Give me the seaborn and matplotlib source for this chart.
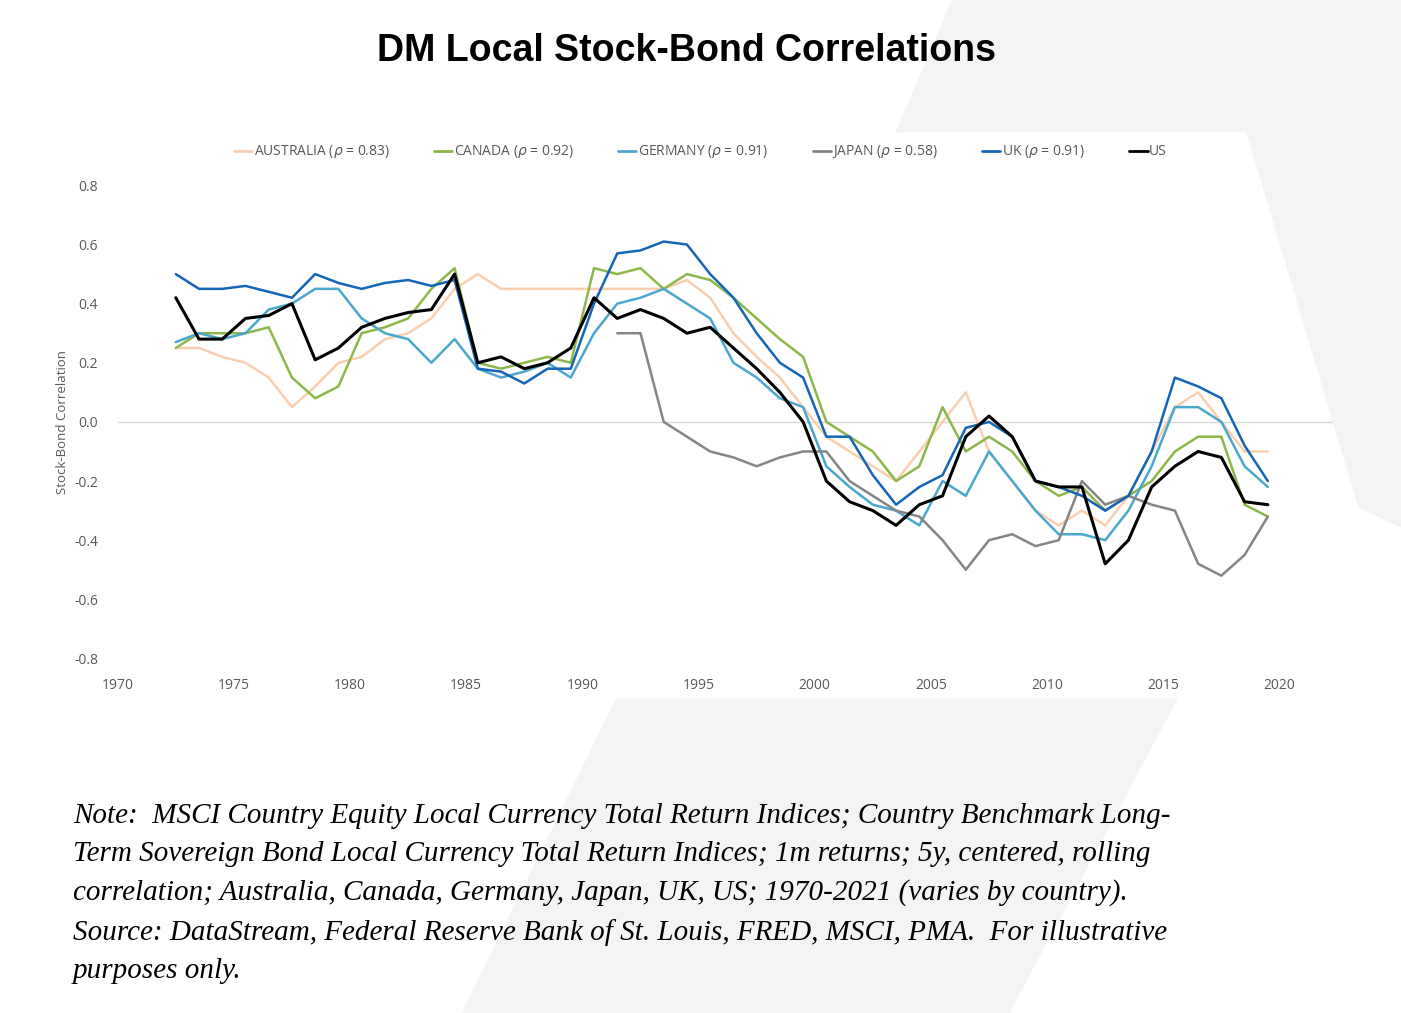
import numpy as np
import pandas as pd
import matplotlib.pyplot as plt
import seaborn as sns
from matplotlib.patches import Polygon

# --- data (annual samples at mid-year) ---
years = [1972.5 + i for i in range(48)]

australia = [0.25, 0.25, 0.22, 0.20, 0.15, 0.05, 0.12, 0.20, 0.22, 0.28,
             0.30, 0.35, 0.45, 0.50, 0.45, 0.45, 0.45, 0.45, 0.45, 0.45,
             0.45, 0.45, 0.48, 0.42, 0.30, 0.22, 0.15, 0.05, -0.05, -0.10,
             -0.15, -0.20, -0.10, 0.00, 0.10, -0.10, -0.20, -0.30, -0.35, -0.30,
             -0.35, -0.25, -0.10, 0.05, 0.10, 0.00, -0.10, -0.10]
canada = [0.25, 0.30, 0.30, 0.30, 0.32, 0.15, 0.08, 0.12, 0.30, 0.32,
          0.35, 0.45, 0.52, 0.20, 0.18, 0.20, 0.22, 0.20, 0.52, 0.50,
          0.52, 0.45, 0.50, 0.48, 0.42, 0.35, 0.28, 0.22, 0.00, -0.05,
          -0.10, -0.20, -0.15, 0.05, -0.10, -0.05, -0.10, -0.20, -0.25, -0.22,
          -0.30, -0.25, -0.20, -0.10, -0.05, -0.05, -0.28, -0.32]
germany = [0.27, 0.30, 0.28, 0.30, 0.38, 0.40, 0.45, 0.45, 0.35, 0.30,
           0.28, 0.20, 0.28, 0.18, 0.15, 0.17, 0.20, 0.15, 0.30, 0.40,
           0.42, 0.45, 0.40, 0.35, 0.20, 0.15, 0.08, 0.05, -0.15, -0.22,
           -0.28, -0.30, -0.35, -0.20, -0.25, -0.10, -0.20, -0.30, -0.38, -0.38,
           -0.40, -0.30, -0.15, 0.05, 0.05, 0.00, -0.15, -0.22]
japan = [np.nan] * 19 + [0.30,
         0.30, 0.00, -0.05, -0.10, -0.12, -0.15, -0.12, -0.10, -0.10, -0.20,
         -0.25, -0.30, -0.32, -0.40, -0.50, -0.40, -0.38, -0.42, -0.40, -0.20,
         -0.28, -0.25, -0.28, -0.30, -0.48, -0.52, -0.45, -0.32]
uk = [0.50, 0.45, 0.45, 0.46, 0.44, 0.42, 0.50, 0.47, 0.45, 0.47,
      0.48, 0.46, 0.48, 0.18, 0.17, 0.13, 0.18, 0.18, 0.40, 0.57,
      0.58, 0.61, 0.60, 0.50, 0.42, 0.30, 0.20, 0.15, -0.05, -0.05,
      -0.18, -0.28, -0.22, -0.18, -0.02, 0.00, -0.05, -0.20, -0.22, -0.25,
      -0.30, -0.25, -0.10, 0.15, 0.12, 0.08, -0.08, -0.20]
us = [0.42, 0.28, 0.28, 0.35, 0.36, 0.40, 0.21, 0.25, 0.32, 0.35,
      0.37, 0.38, 0.50, 0.20, 0.22, 0.18, 0.20, 0.25, 0.42, 0.35,
      0.38, 0.35, 0.30, 0.32, 0.25, 0.18, 0.10, 0.00, -0.20, -0.27,
      -0.30, -0.35, -0.28, -0.25, -0.05, 0.02, -0.05, -0.20, -0.22, -0.22,
      -0.48, -0.40, -0.22, -0.15, -0.10, -0.12, -0.27, -0.28]

yticks = [-0.8, -0.6, -0.4, -0.2, 0.0, 0.2, 0.4, 0.6, 0.8]
ytick_labels = ['-0.8', '-0.6', '-0.4', '-0.2', '0.0', '0.2', '0.4', '0.6', '0.8']

labels = ['AUSTRALIA ($\\rho$ = 0.83)', 'CANADA ($\\rho$ = 0.92)', 'GERMANY ($\\rho$ = 0.91)',
          'JAPAN ($\\rho$ = 0.58)', 'UK ($\\rho$ = 0.91)', 'US']
colors = ['#f9cfb0', '#8db849', '#4aa8cc', '#858585', '#1565b8', '#000000']
widths = [1.8, 1.8, 1.8, 1.8, 1.8, 2.2]

df = pd.DataFrame({'year': years})
for lab, vals in zip(labels, [australia, canada, germany, japan, uk, us]):
    df[lab] = vals
long = df.melt(id_vars='year', var_name='series', value_name='corr')

sns.set_style("white")
plt.rcParams['font.family'] = ['Open Sans', 'DejaVu Sans']

fig = plt.figure(figsize=(14.01, 10.13), dpi=100)

# faint background shapes
bg = '#f3f4f3'
fig.patches.append(Polygon([(0.68, 1.0), (1.0, 1.0), (1.0, 0.48), (0.97, 0.50), (0.89, 0.87), (0.64, 0.87)],
                           closed=True, transform=fig.transFigure, color=bg, zorder=0))
fig.patches.append(Polygon([(0.44, 0.31), (0.84, 0.31), (0.72, 0.0), (0.33, 0.0)],
                           closed=True, transform=fig.transFigure, color=bg, zorder=0))

ax = fig.add_axes([0.084, 0.35, 0.879, 0.467])
ax.patch.set_alpha(0)
sns.lineplot(data=long, x='year', y='corr', hue='series', palette=colors,
             hue_order=labels, ax=ax, legend=False)
for line, w in zip(ax.lines, widths):
    line.set_linewidth(w)

ax.axhline(0, color='#d9d9d9', lw=1, zorder=0)
ax.set_xlim(1970, 2023)
ax.set_ylim(-0.8, 0.8)
ax.set_xticks(range(1970, 2021, 5))
ax.set_yticks(yticks)
ax.set_yticklabels(ytick_labels)
ax.tick_params(labelsize=10, colors='#595959', length=0)
ax.tick_params(axis='x', pad=14)
ax.tick_params(axis='y', pad=14)
for s in ax.spines.values():
    s.set_visible(False)
ax.set_xlabel('')
ax.set_ylabel('Stock-Bond Correlation', fontsize=9.5, color='#595959', labelpad=4)

handles = [plt.Line2D([], [], color=c, lw=2) for c in colors]
fig.legend(handles, labels, loc='center', bbox_to_anchor=(0.5, 0.85), ncol=6, frameon=False,
           fontsize=10, handlelength=1.3, handletextpad=0.1, columnspacing=3.2,
           labelcolor='#595959')

fig.text(0.49, 0.95, 'DM Local Stock-Bond Correlations', ha='center', va='center', color='black',
         fontsize=27, fontweight='bold', family=['Liberation Sans', 'DejaVu Sans'])

note = ("Note:  MSCI Country Equity Local Currency Total Return Indices; Country Benchmark Long-\n"
        "Term Sovereign Bond Local Currency Total Return Indices; 1m returns; 5y, centered, rolling\n"
        "correlation; Australia, Canada, Germany, Japan, UK, US; 1970-2021 (varies by country).\n"
        "Source: DataStream, Federal Reserve Bank of St. Louis, FRED, MSCI, PMA.  For illustrative\n"
        "purposes only.")
fig.text(0.052, 0.118, note, ha='left', va='center', fontsize=21, style='italic', color='black',
         linespacing=1.6, family=['Liberation Serif', 'DejaVu Serif'])

fig.savefig('out.png', dpi=100)
